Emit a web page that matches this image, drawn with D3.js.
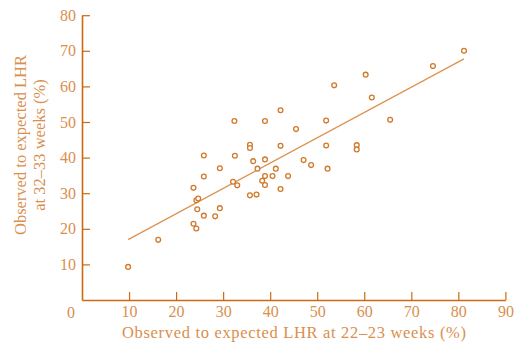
<!DOCTYPE html>
<html>
<head>
<meta charset="utf-8">
<script src="https://cdn.jsdelivr.net/npm/d3@7"></script>
<style>
  html, body { margin: 0; padding: 0; background: #fff; }
  svg { display: block; }
  text { font-family: "Liberation Serif", "DejaVu Serif", serif; }
</style>
</head>
<body>
<svg id="chart" width="515" height="350"></svg>
<script>
// Data
const xValues = [9.8, 16.2, 23.7, 24.3, 23.7, 24.3, 24.7, 24.5, 25.9, 25.9, 25.9, 28.3, 29.3, 29.3,
  32.5, 32.1, 33.0, 35.7, 35.7, 35.7, 37.1, 36.4, 37.3, 38.3, 32.4, 81.2, 74.6, 60.3, 53.6, 61.6,
  42.2, 38.9, 51.9, 65.5, 45.5, 42.2, 51.9, 58.4, 58.4, 38.9, 47.1, 48.7, 41.2, 52.2, 38.9, 40.5,
  43.8, 38.9, 42.2];
const yValues = [9.3, 16.9, 21.4, 20.1, 31.5, 28.0, 28.5, 25.5, 23.7, 34.7, 40.6, 23.5, 25.8, 37.0,
  40.5, 33.2, 32.2, 43.6, 42.7, 29.4, 29.6, 39.0, 36.9, 33.5, 50.3, 70.0, 65.7, 63.3, 60.3, 56.9,
  53.3, 50.3, 50.4, 50.6, 48.0, 43.3, 43.4, 43.5, 42.3, 39.5, 39.3, 37.9, 36.9, 36.9, 34.8, 34.8,
  34.8, 32.3, 31.2];
const fitIntercept = 10.0;
const fitSlope = 0.711;
const fitRange = [9.8, 81.2];
const xTicks = [10, 20, 30, 40, 50, 60, 70, 80, 90];
const yTicks = [10, 20, 30, 40, 50, 60, 70, 80];
const originLabel = "0";
const xTitle = "Observed to expected LHR at 22\u201323 weeks (%)";
const yTitleLines = ["Observed to expected LHR", "at 32\u201333 weeks (%)"];

const axisColor = "#cc6a12";
const textColor = "#d98f4e";
const markColor = "#d07a2c";
const lineColor = "#dc9350";

const svg = d3.select("#chart");
const x = d3.scaleLinear().domain([0, 90]).range([82, 505.4]);
const y = d3.scaleLinear().domain([0, 80]).range([300, 15.2]);

// X axis
const gx = svg.append("g").attr("transform", `translate(0,${y(0)})`)
  .call(d3.axisBottom(x).tickValues(xTicks).tickSizeInner(-8).tickSizeOuter(0).tickPadding(12));
// Y axis
const gy = svg.append("g").attr("transform", `translate(${x(0)},0)`)
  .call(d3.axisLeft(y).tickValues(yTicks).tickSizeInner(-8).tickSizeOuter(0).tickPadding(14));

[gx, gy].forEach(g => {
  g.select(".domain").attr("stroke", axisColor).attr("stroke-width", 1.6);
  g.selectAll(".tick line").attr("stroke", axisColor).attr("stroke-width", 1.2);
  g.selectAll(".tick text").attr("fill", textColor).attr("font-size", 16)
    .attr("font-family", "'Liberation Serif', serif");
});
gx.selectAll(".tick text").attr("dy", "0.71em").attr("y", 6);
gy.selectAll(".tick text").attr("x", -6);

svg.append("text").attr("x", x(0) - 11).attr("y", y(0) + 12)
  .attr("text-anchor", "middle").attr("dy", "0.35em")
  .attr("fill", textColor).attr("font-size", 16).text(originLabel);

// Titles
svg.append("text").attr("x", 294).attr("y", 338)
  .attr("text-anchor", "middle").attr("fill", textColor).attr("font-size", 16.5)
  .attr("textLength", 344).attr("lengthAdjust", "spacing")
  .text(xTitle);

const yt = svg.append("text").attr("transform", "translate(26,145) rotate(-90)")
  .attr("text-anchor", "middle").attr("fill", textColor).attr("font-size", 16.5);
yTitleLines.forEach((t, i) => {
  yt.append("tspan").attr("x", 0).attr("dy", i === 0 ? 0 : 19).text(t);
});

// Regression line
const line = d3.line().x(d => x(d)).y(d => y(fitIntercept + fitSlope * d));
svg.append("path").datum(fitRange).attr("d", line)
  .attr("fill", "none").attr("stroke", lineColor).attr("stroke-width", 1.3);

// Points
svg.append("g").selectAll("circle").data(xValues.map((v, i) => [v, yValues[i]]))
  .join("circle")
  .attr("cx", d => x(d[0])).attr("cy", d => y(d[1])).attr("r", 2.4)
  .attr("fill", "#fff").attr("stroke", markColor).attr("stroke-width", 1.3);
</script>
</body>
</html>
